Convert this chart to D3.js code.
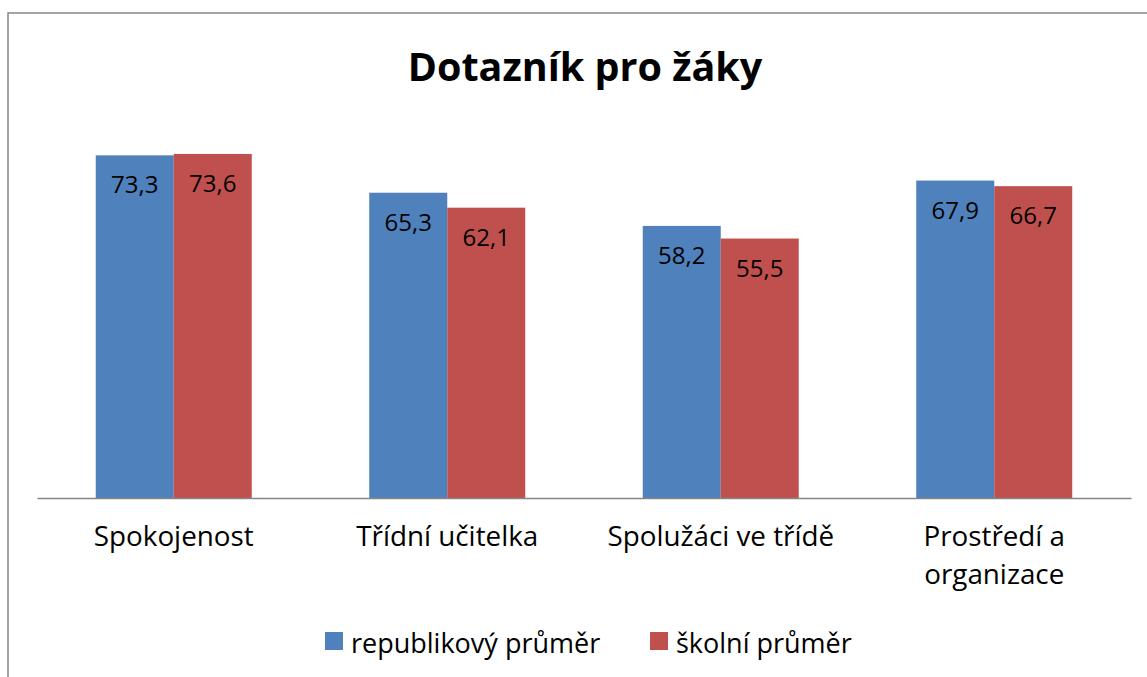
<!DOCTYPE html>
<html>
<head>
<meta charset="utf-8">
<script src="https://cdn.jsdelivr.net/npm/d3@7"></script>
<style>
    body { margin: 0; background: #ffffff; }
    text { font-family: "Open Sans", "Noto Sans", sans-serif; fill: #000; }
</style>
</head>
<body>
<script>
var categories = ["Spokojenost", "Třídní učitelka", "Spolužáci ve třídě", "Prostředí a organizace"];
var seriesNames = ["republikový průměr", "školní průměr"];
var republikovy = [73.3, 65.3, 58.2, 67.9];
var skolni = [73.6, 62.1, 55.5, 66.7];
var colors = ["#4F81BD", "#C0504D"];

var w = 1147;
var h = 677;

var svg = d3.select("body")
    .append("svg")
    .attr("width", w)
    .attr("height", h);

// chart frame (runs off the right and bottom edge)
svg.append("rect")
    .attr("x", 8)
    .attr("y", 13)
    .attr("width", 1200)
    .attr("height", 700)
    .attr("fill", "none")
    .attr("stroke", "#868686")
    .attr("stroke-width", 1.5);

svg.append("text")
    .attr("x", 585)
    .attr("y", 81)
    .attr("text-anchor", "middle")
    .style("font-size", "39.5px")
    .style("font-weight", "bold")
    .text("Dotazník pro žáky");

var xScale = d3.scaleBand()
    .domain(categories)
    .range([37, 1131])
    .paddingInner(0.4296)
    .paddingOuter(0.2148);

var xSub = d3.scaleBand()
    .domain(seriesNames)
    .range([0, xScale.bandwidth()]);

var yScale = d3.scaleLinear()
    .domain([0, 80])
    .range([498, 124]);

var rows = categories.map(function (c, i) {
    return {cat: c, values: [republikovy[i], skolni[i]]};
});

var groups = svg.selectAll("g.group")
    .data(rows)
    .enter()
    .append("g")
    .attr("class", "group")
    .attr("transform", function (d) {
        return "translate(" + xScale(d.cat) + ",0)";
    });

groups.selectAll("rect")
    .data(function (d) {
        return d.values.map(function (v, j) { return {name: seriesNames[j], v: v, j: j}; });
    })
    .enter()
    .append("rect")
    .attr("x", function (d) { return xSub(d.name); })
    .attr("y", function (d) { return yScale(d.v); })
    .attr("width", xSub.bandwidth())
    .attr("height", function (d) { return yScale(0) - yScale(d.v); })
    .attr("fill", function (d) { return colors[d.j]; });

groups.selectAll("text.val")
    .data(function (d) {
        return d.values.map(function (v, j) { return {name: seriesNames[j], v: v}; });
    })
    .enter()
    .append("text")
    .attr("class", "val")
    .attr("x", function (d) { return xSub(d.name) + xSub.bandwidth() / 2; })
    .attr("y", function (d) { return yScale(d.v) + 38; })
    .attr("text-anchor", "middle")
    .style("font-size", "24px")
    .text(function (d) { return d3.format(".1f")(d.v).replace(".", ","); });

// category axis
var xAxis = svg.append("g")
    .attr("transform", "translate(0," + yScale(0) + ")")
    .call(d3.axisBottom(xScale).tickSize(0).tickPadding(0));

xAxis.select(".domain")
    .attr("stroke", "#868686")
    .attr("stroke-width", 1.5);

xAxis.selectAll(".tick text")
    .attr("y", 48)
    .attr("dy", null)
    .style("font-family", "'Open Sans', sans-serif")
    .style("font-size", "27.8px")
    .call(wrap, xScale.step());

function wrap(sel, width) {
    sel.each(function () {
        var t = d3.select(this);
        var words = t.text().split(/\s+/);
        var y = t.attr("y");
        var line = [];
        var lineNo = 0;
        t.text(null);
        var tspan = t.append("tspan").attr("x", 0).attr("y", y);
        words.forEach(function (word) {
            line.push(word);
            tspan.text(line.join(" "));
            if (tspan.node().getComputedTextLength() > width && line.length > 1) {
                line.pop();
                tspan.text(line.join(" "));
                line = [word];
                lineNo++;
                tspan = t.append("tspan")
                    .attr("x", 0)
                    .attr("y", +y + lineNo * 38)
                    .text(word);
            }
        });
    });
}

// legend
var legendX = [325, 650];
var legend = svg.selectAll("g.legend")
    .data(seriesNames)
    .enter()
    .append("g")
    .attr("class", "legend")
    .attr("transform", function (d, i) {
        return "translate(" + legendX[i] + ",632)";
    });

legend.append("rect")
    .attr("width", 18)
    .attr("height", 18)
    .attr("fill", function (d, i) { return colors[i]; });

legend.append("text")
    .attr("x", 26)
    .attr("y", 21)
    .style("font-size", "27px")
    .text(function (d) { return d; });
</script>
</body>
</html>
